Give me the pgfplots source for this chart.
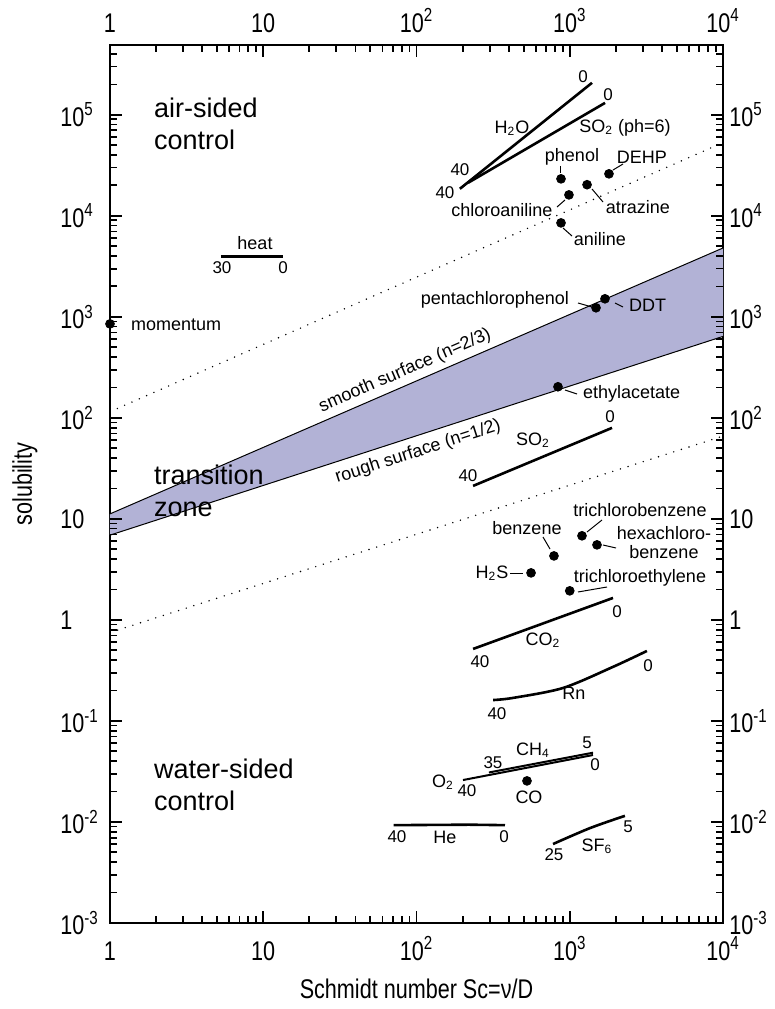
\documentclass[border=0pt]{standalone}
\usepackage{pgfplots}
\pgfplotsset{compat=1.18}
\usepackage{fontspec}
\setmainfont{Liberation Sans}
\newfontfamily\cond{Liberation Sans}[FakeStretch=0.8]
\definecolor{band}{RGB}{178,178,214}
\newcommand\lab{\fontsize{9}{9.5}\selectfont}
\newcommand\nm{\fontsize{8.5}{9}\selectfont}
\newcommand\zone{\fontsize{13.5}{16}\selectfont}
\newcommand\tfont{\cond\fontsize{13.5}{14}\selectfont}
\begin{document}
\begin{tikzpicture}
\begin{axis}[name=ax, clip=false,
  scale only axis, width=306.5pt, height=439pt,
  xmode=log, ymode=log, xmin=1, xmax=10000, ymin=0.001, ymax=490000,
  xtick={1,10,100,1000,10000},
  xticklabels={1,10,10\textsuperscript{2},10\textsuperscript{3},10\textsuperscript{4}},
  ytick={0.001,0.01,0.1,1,10,100,1000,10000,100000},
  yticklabels={10\textsuperscript{-3},10\textsuperscript{-2},10\textsuperscript{-1},1,10,10\textsuperscript{2},10\textsuperscript{3},10\textsuperscript{4},10\textsuperscript{5}},
  major tick length=6pt, minor tick length=3.5pt,
  axis line style={line width=1.2pt},
  every tick/.style={black, line width=0.9pt},
  tick label style={font=\tfont, inner sep=1pt},
  xticklabel style={anchor=base, yshift=-18.5pt},
  yticklabel style={anchor=west, xshift=-26pt},
  extra x ticks={1,10,100,1000,10000},
  extra x tick labels={1,10,10\textsuperscript{2},10\textsuperscript{3},10\textsuperscript{4}},
  extra y ticks={0.001,0.01,0.1,1,10,100,1000,10000,100000},
  extra y tick labels={10\textsuperscript{-3},10\textsuperscript{-2},10\textsuperscript{-1},1,10,10\textsuperscript{2},10\textsuperscript{3},10\textsuperscript{4},10\textsuperscript{5}},
  extra x tick style={xticklabel pos=upper, every x tick label/.style={anchor=base, yshift=6.5pt}},
  extra y tick style={yticklabel pos=right, every y tick label/.style={anchor=west, xshift=2pt}},
  xlabel={Schmidt number Sc=ν/D}, ylabel={solubility},
  every axis x label/.style={at={(rel axis cs:0.5,0)}, anchor=base, yshift=-37.5pt, font=\tfont},
  every axis y label/.style={at={(rel axis cs:0,0.5)}, xshift=-42.5pt, rotate=90, anchor=center, font=\tfont},
]
% transition band
\addplot[fill=band, draw=none] coordinates {(1,11.2) (10000,4800) (10000,640) (1,6.9)};
\addplot[black, line width=0.5pt] coordinates {(1,11.2) (10000,4800)};
\addplot[black, line width=0.5pt] coordinates {(1,6.9) (10000,640)};
% dotted boundaries
\addplot[black, line width=0.8pt, line cap=round, dash pattern=on 0pt off 4pt] coordinates {(1,115) (10000,53000)};
\addplot[black, line width=0.8pt, line cap=round, dash pattern=on 0pt off 4pt] coordinates {(1,0.75) (10000,66)};
% temperature ranges
\addplot[black, line width=1.3pt] coordinates {(5.3,3930) (13.5,3930)};
\addplot[black, line width=1.3pt] coordinates {(192,18500) (1397,207000)};
\addplot[black, line width=1.3pt] coordinates {(217,21200) (1700,131000)};
\addplot[black, line width=1.3pt] coordinates {(234,21.2) (1888,79.6)};
\addplot[black, line width=1.3pt] coordinates {(234,0.516) (1916,1.65)};
\addplot[black, line width=1.3pt, smooth] coordinates {(316,0.161) (426,0.169) (904,0.212) (1916,0.343) (3190,0.493)};
\addplot[black, line width=1.0pt] coordinates {(201,0.026) (1419,0.046)};
\addplot[black, line width=1.0pt] coordinates {(297,0.0309) (1419,0.0485)};
\addplot[black, line width=1.3pt] coordinates {(71,0.0093) (220,0.0094) (378,0.0093)};
\addplot[black, line width=1.3pt, smooth] coordinates {(778,0.00605) (1356,0.0087) (2290,0.0115)};
% single substances
\addplot[only marks, mark=*, mark size=2.2pt, black] coordinates {
 (1,851) (877,23200) (1297,20300) (1803,26000) (988,16100) (877,8500)
 (1484,1228) (1698,1507) (838,203) (789,4.3) (559,2.92) (1202,6.8)
 (1506,5.53) (1000,1.94) (526,0.0255)};
\end{axis}
\begin{scope}[shift={(ax.south west)}, xshift=-55pt, yshift=461.5pt, x=0.5pt, y=-0.5pt]
\path (0,0) rectangle (775,1009);
% tick marks on all four sides (axis box: x 110..723, y 45..923)
\foreach \d in {0,1,2,3,4} {
  \draw[line width=0.9pt] ({110+153.25*\d},923) -- ++(0,-12);
  \draw[line width=0.9pt] ({110+153.25*\d},45) -- ++(0,12);
}
\foreach \d in {0,1,2,3} {
  \foreach \m in {2,...,9} {
    \draw[line width=0.8pt] ({110+153.25*(\d+log10(\m))},923) -- ++(0,-7);
    \draw[line width=0.8pt] ({110+153.25*(\d+log10(\m))},45) -- ++(0,7);
  }
}
\foreach \d in {0,...,8} {
  \draw[line width=0.9pt] (110,{923-101.03*\d}) -- ++(12,0);
  \draw[line width=0.9pt] (723,{923-101.03*\d}) -- ++(-12,0);
  \foreach \m in {2,...,9} {
    \pgfmathsetmacro\yy{923-101.03*(\d+log10(\m))}
    \ifdim\yy pt>46pt
      \draw[line width=0.8pt] (110,\yy) -- ++(7,0);
      \draw[line width=0.8pt] (723,\yy) -- ++(-7,0);
    \fi
  }
}
\node[font=\zone, align=left, anchor=west] at (147,124) {air-sided\\control};
\node[font=\zone, align=left, anchor=west] at (147,491) {transition\\zone};
\node[font=\zone, align=left, anchor=west] at (147,785) {water-sided\\control};
\node[font=\lab, rotate=23.5] at (405,371) {smooth surface (n=2/3)};
\node[font=\lab, rotate=17.9] at (418,452) {rough surface (n=1/2)};
\node[font=\lab] at (255,243) {heat};
\node[font=\nm] at (222,268) {30};
\node[font=\nm] at (283,268) {0};
\node[font=\lab, anchor=west] at (124,325) {momentum};
\node[font=\lab] at (512,128) {H\textsubscript{2}O};
\node[font=\lab] at (625,128) {SO\textsubscript{2} (ph=6)};
\node[font=\nm] at (583,77) {0};
\node[font=\nm] at (608,95) {0};
\node[font=\nm] at (460,170) {40};
\node[font=\nm] at (445,193) {40};
\node[font=\lab] at (572,157) {phenol};
\node[font=\lab] at (642,157) {DEHP};
\node[font=\lab] at (638,207) {atrazine};
\node[font=\lab] at (502,210) {chloroaniline};
\node[font=\lab] at (600,239) {aniline};
\node[font=\lab, anchor=east] at (576,300) {pentachlorophenol};
\node[font=\lab, anchor=west] at (622,305) {DDT};
\node[font=\lab, anchor=west] at (576,394) {ethylacetate};
\node[font=\lab] at (533,440) {SO\textsubscript{2}};
\node[font=\nm] at (468,476) {40};
\node[font=\nm] at (610,417) {0};
\node[font=\lab] at (640,510) {trichlorobenzene};
\node[font=\lab, align=center] at (664,543) {hexachloro-\\benzene};
\node[font=\lab] at (527,528) {benzene};
\node[font=\lab] at (492,573) {H\textsubscript{2}S};
\node[font=\lab] at (640,578) {trichloroethylene};
\node[font=\nm] at (480,662) {40};
\node[font=\lab] at (543,640) {CO\textsubscript{2}};
\node[font=\nm] at (617,612) {0};
\node[font=\nm] at (497,714) {40};
\node[font=\lab] at (574,693) {Rn};
\node[font=\nm] at (648,666) {0};
\node[font=\lab] at (443,782) {O\textsubscript{2}};
\node[font=\nm] at (467,791) {40};
\node[font=\nm] at (493,763) {35};
\node[font=\lab] at (533,750) {CH\textsubscript{4}};
\node[font=\nm] at (587,743) {5};
\node[font=\nm] at (595,765) {0};
\node[font=\lab] at (529,797) {CO};
\node[font=\nm] at (397,837) {40};
\node[font=\lab] at (445,837) {He};
\node[font=\nm] at (504,837) {0};
\node[font=\nm] at (554,855) {25};
\node[font=\lab] at (597,846) {SF\textsubscript{6}};
\node[font=\nm] at (628,827) {5};
\begin{scope}[line width=0.5pt]
\draw (560,166)--(560,173);
\draw (613,170)--(623,164);
\draw (592,189)--(603,202);
\draw (557,207)--(565,200);
\draw (563,228)--(572,236);
\draw (578,303)--(592,307);
\draw (615,303)--(623,307);
\draw (565,390)--(577,394);
\draw (543,537)--(550,549);
\draw (510,573)--(523,573);
\draw (587,532)--(602,520);
\draw (603,545)--(616,548);
\draw (578,592)--(607,587);
\end{scope}
\end{scope}
\end{tikzpicture}
\end{document}
